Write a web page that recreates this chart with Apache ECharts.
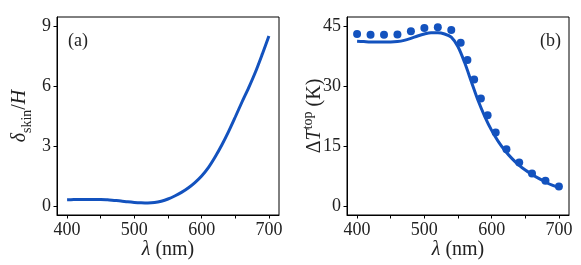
<!DOCTYPE html>
<html>
<head>
<meta charset="utf-8">
<script src="https://cdn.jsdelivr.net/npm/echarts@6/dist/echarts.min.js"></script>
<style>
html,body{margin:0;padding:0;background:#fff;}
#c{width:581px;height:265px;}
</style>
</head>
<body>
<div id="c"></div>
<script>
// Panel (a): skin depth vs wavelength
const lambdaA = [400,410,420,430,440,450,460,470,480,490,500,510,520,530,540,550,560,570,580,590,600,610,620,630,640,650,660,670,680,690,700];
const deltaSkin = [0.31,0.32,0.33,0.33,0.33,0.33,0.31,0.28,0.25,0.21,0.18,0.16,0.15,0.17,0.24,0.35,0.5,0.68,0.9,1.17,1.5,1.92,2.45,3.05,3.72,4.45,5.2,5.92,6.7,7.58,8.5];

// Panel (b): top temperature rise, model line
const lambdaB = [400,410,420,430,440,450,460,470,480,490,500,510,520,530,540,550,560,570,580,590,600,610,620,630,640,650,660,670,680,690,700];
const dTline = [41.2,41.1,41.0,41.0,41.0,41.0,41.1,41.4,41.9,42.5,43.0,43.3,43.3,43.0,42.2,39.8,35.8,31.0,26.3,22.3,18.9,16.1,13.8,11.9,10.3,9.0,7.9,6.9,6.0,5.2,4.6];

// Panel (b): measured points
const lambdaPts = [400,420,440,460,480,500,520,540,554,564,574,584,594,606,622,641,660,680,700];
const dTpts = [43.0,42.8,42.8,42.9,43.7,44.5,44.7,44.0,40.8,36.5,31.6,26.9,22.7,18.4,14.2,10.9,8.1,6.3,4.9];

// ticks
const xTickLabels = [400,500,600,700];
const xTicks = [400,450,500,550,600,650,700];
const yTicksA = [0,3,6,9];
const yTicksB = [0,15,30,45];

const BLUE = '#1352be';
const FONT = 'Liberation Serif';

function pairs(xs, ys){ return xs.map((x,i)=>[x, ys[i]]); }

const axisCommon = {
  axisLine:{show:true, onZero:false, lineStyle:{color:'#000', width:1}},
  splitLine:{show:false},
};

function xAx(gi){
  return Object.assign({}, axisCommon, {
    type:'value', gridIndex:gi, min:385, max:715,
    axisTick:{show:true, inside:false, length:3.5, lineStyle:{color:'#000'}, customValues:xTicks},
    axisLabel:{customValues:xTickLabels, fontFamily:FONT, fontSize:18, color:'#222', margin:6},
    name:'{i|λ}{n| (nm)}', nameLocation:'middle', nameGap:25, nameMoveOverlap:false,
    nameTextStyle:{fontFamily:FONT, fontSize:20, color:'#222', rich:{
      i:{fontFamily:FONT, fontSize:20, fontStyle:'italic', color:'#222'},
      n:{fontFamily:FONT, fontSize:20, color:'#222'}
    }}
  });
}

function yAx(gi, min, max, ticks, name, rich, gap){
  return Object.assign({}, axisCommon, {
    type:'value', gridIndex:gi, min:min, max:max,
    axisTick:{show:true, inside:false, length:3.5, lineStyle:{color:'#000'}, customValues:ticks},
    axisLabel:{customValues:ticks, fontFamily:FONT, fontSize:18, color:'#222', margin:6},
    name:name, nameLocation:'middle', nameGap:gap, nameRotate:90, nameMoveOverlap:false,
    nameTextStyle:{fontFamily:FONT, fontSize:20, color:'#222', rich:rich}
  });
}

const richA = {
  i:{fontFamily:FONT, fontSize:20, fontStyle:'italic', color:'#222', lineHeight:28, verticalAlign:'middle'},
  sub:{fontFamily:FONT, fontSize:14, color:'#222', lineHeight:28, verticalAlign:'bottom'},
  n:{fontFamily:FONT, fontSize:20, color:'#222', lineHeight:28, verticalAlign:'middle'}
};
const richB = {
  i:{fontFamily:FONT, fontSize:20, fontStyle:'italic', color:'#222', lineHeight:28, verticalAlign:'middle'},
  sup:{fontFamily:FONT, fontSize:14, color:'#222', lineHeight:28, verticalAlign:'top'},
  n:{fontFamily:FONT, fontSize:20, color:'#222', lineHeight:28, verticalAlign:'middle'}
};

const chart = echarts.init(document.getElementById('c'), null, {renderer:'canvas'});
chart.setOption({
  animation:false,
  backgroundColor:'#fff',
  grid:[
    {left:57, top:17, width:222, height:200, show:true, borderColor:'#000', borderWidth:1, backgroundColor:'transparent'},
    {left:347, top:17, width:222, height:200, show:true, borderColor:'#000', borderWidth:1, backgroundColor:'transparent'}
  ],
  xAxis:[xAx(0), xAx(1)],
  yAxis:[
    yAx(0, -0.45, 9.45, yTicksA, '{i|δ}{sub|skin}{n|/}{i|H}', richA, 23),
    yAx(1, -2.25, 47.25, yTicksB, '{n|Δ}{i|T}{sup|top}{n| (K)}', richB, 18)
  ],
  graphic:[
    {type:'text', left:68, top:32, style:{text:'(a)', font:'18px "Liberation Serif"', fill:'#222'}},
    {type:'text', right:20, top:32, style:{text:'(b)', font:'18px "Liberation Serif"', fill:'#222'}}
  ],
  series:[
    {type:'line', xAxisIndex:0, yAxisIndex:0, data:pairs(lambdaA, deltaSkin), showSymbol:false, smooth:0.3,
     lineStyle:{color:BLUE, width:3}},
    {type:'line', xAxisIndex:1, yAxisIndex:1, data:pairs(lambdaB, dTline), showSymbol:false, smooth:0.3,
     lineStyle:{color:BLUE, width:3}},
    {type:'scatter', xAxisIndex:1, yAxisIndex:1, data:pairs(lambdaPts, dTpts), symbolSize:8,
     itemStyle:{color:BLUE, opacity:1}}
  ]
});
</script>
</body>
</html>
